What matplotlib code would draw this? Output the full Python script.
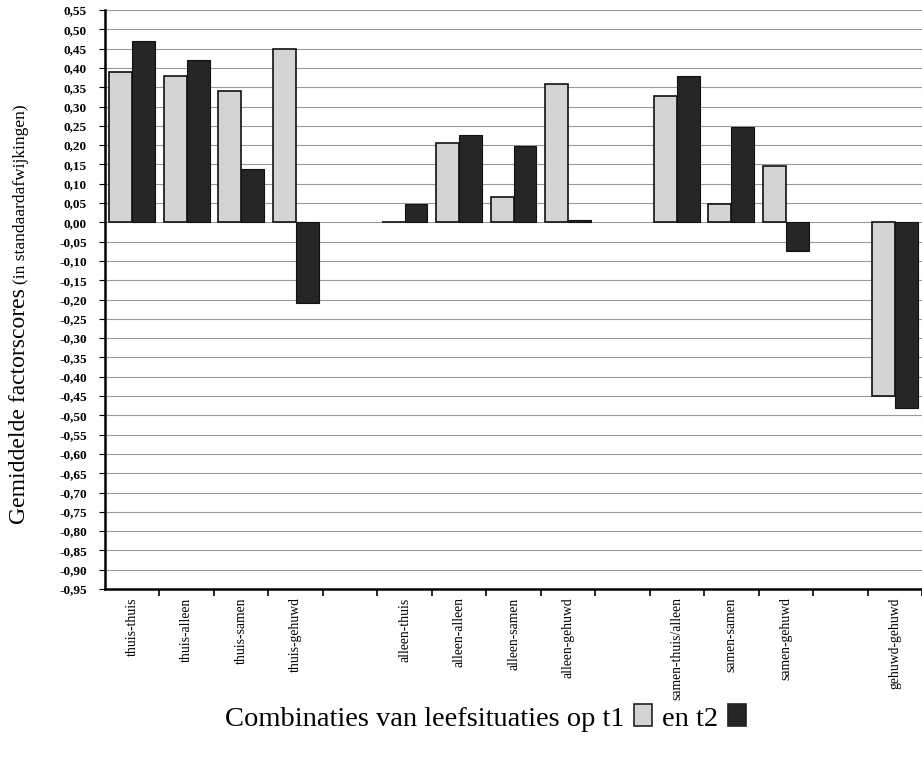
import matplotlib
matplotlib.use("Agg")
import matplotlib.pyplot as plt
import numpy as np
from matplotlib.offsetbox import TextArea, DrawingArea, HPacker, AnchoredOffsetbox
from matplotlib.patches import Rectangle

categories = ["thuis-thuis", "thuis-alleen", "thuis-samen", "thuis-gehuwd", "",
              "alleen-thuis", "alleen-alleen", "alleen-samen", "alleen-gehuwd", "",
              "samen-thuis/alleen", "samen-samen", "samen-gehuwd", "",
              "gehuwd-gehuwd"]
t1 = [0.39, 0.38, 0.34, 0.45, np.nan,
      0.002, 0.205, 0.066, 0.357, np.nan,
      0.327, 0.047, 0.146, np.nan,
      -0.45]
t2 = [0.47, 0.42, 0.137, -0.21, np.nan,
      0.048, 0.225, 0.197, 0.005, np.nan,
      0.378, 0.246, -0.074, np.nan,
      -0.48]
yticks = np.round(np.arange(-0.95, 0.5501, 0.05), 2)

plt.rcParams['font.family'] = ['Liberation Serif', 'DejaVu Serif']

fig = plt.figure(figsize=(9.22, 7.58), dpi=100)
ax = fig.add_axes([105/922, 1-589/758, 817/922, 579/758])

x = np.arange(len(categories))
w = 0.42
ax.bar(x - w/2, t1, width=w, color="#d4d4d4", edgecolor="#111111", linewidth=1.2, zorder=3)
ax.bar(x + w/2, t2, width=w, color="#262626", edgecolor="#111111", linewidth=0.8, zorder=3)

ax.set_xlim(-0.5, len(categories) - 0.5)
ax.set_ylim(-0.95, 0.55)
ax.set_yticks(yticks)
ax.set_yticklabels([f"{v:.2f}".replace(".", ",").replace("-0,00", "0,00") for v in yticks],
                   fontsize=9.5, fontweight="bold")
for v in yticks:
    ax.axhline(v, color="#9a9a9a", lw=0.8, zorder=1)

ax.set_xticks(x)
ax.set_xticklabels(categories, rotation=90, fontsize=9.8, va="top")
ax.tick_params(axis="x", length=0, pad=6)
ax.set_xticks(np.arange(-0.5, len(categories), 1.0)[1:], minor=True)
ax.tick_params(axis="x", which="minor", length=5, width=1.2, direction="out", color="black")
ax.tick_params(axis="y", length=4, width=0.8, pad=9)

for s in ["top", "right"]:
    ax.spines[s].set_visible(False)
ax.spines["left"].set_linewidth(1.8)
ax.spines["bottom"].set_linewidth(1.8)

# y label in two sizes, sharing a baseline
fig.text(25/922, 1-524/758, "Gemiddelde factorscores", rotation=90, fontsize=17,
         ha="left", va="baseline", rotation_mode="anchor")
fig.text(25/922, 1-284/758, "(in standaardafwijkingen)", rotation=90, fontsize=12.5,
         ha="left", va="baseline", rotation_mode="anchor")

# x label with inline legend boxes
def box(color):
    da = DrawingArea(15, 16, 0, 0)
    da.add_artist(Rectangle((1, 0), 13, 16, facecolor=color, edgecolor="#222222", lw=1.2))
    return da

items = [TextArea("Combinaties van leefsituaties op t1", textprops=dict(fontsize=20.5)),
         box("#d4d4d4"),
         TextArea("en t2", textprops=dict(fontsize=20.5)),
         box("#262626")]
pack = HPacker(children=items, align="baseline", pad=0, sep=6)
ab = AnchoredOffsetbox(loc="center", child=pack, frameon=False,
                       bbox_to_anchor=(486/922, 1-718/758), bbox_transform=fig.transFigure)
fig.add_artist(ab)

fig.savefig("out.png", dpi=100, facecolor="white")
